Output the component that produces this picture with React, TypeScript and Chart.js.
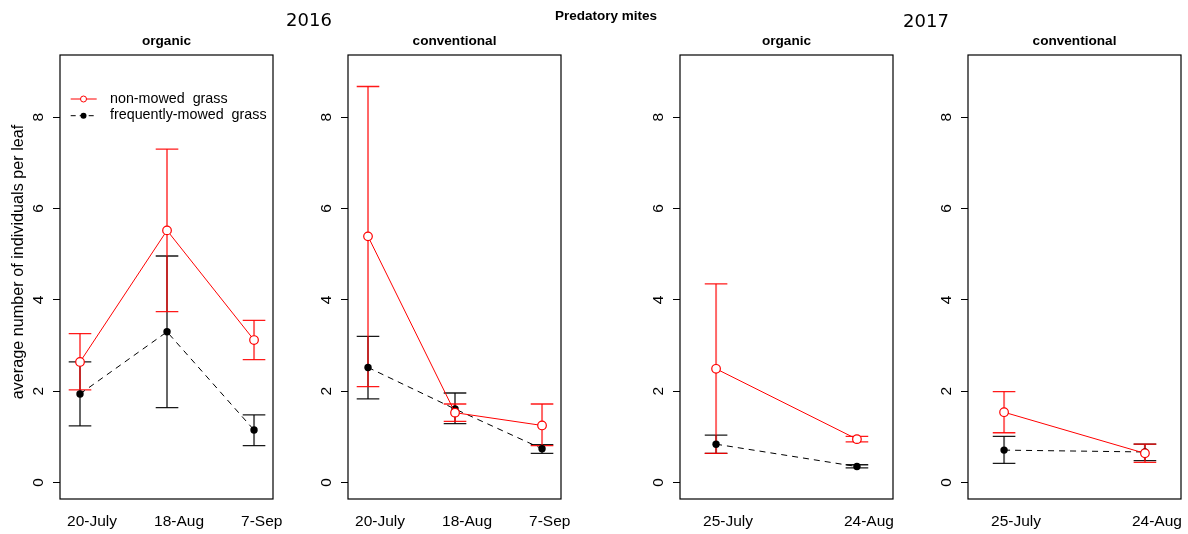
import React, { useEffect, useRef } from "react";
import { Chart, registerables } from "chart.js";
Chart.register(...registerables);

// ---------- data ----------
const mainTitle = "Predatory mites";
const yearLabels = ["2016", "2017"];
const panelTitles = ["organic", "conventional", "organic", "conventional"];
const yAxisTitle = "average number of individuals per leaf";
const seriesNames = ["non-mowed  grass", "frequently-mowed  grass"];
const yTicks = [0, 2, 4, 6, 8];

const dates2016 = ["20-July", "18-Aug", "7-Sep"];
const dates2017 = ["25-July", "24-Aug"];

// 2016 organic
const org16NonMean = [2.64, 5.52, 3.12];
const org16NonLow = [2.03, 3.74, 2.69];
const org16NonHigh = [3.26, 7.3, 3.55];
const org16MowMean = [1.94, 3.3, 1.15];
const org16MowLow = [1.24, 1.64, 0.81];
const org16MowHigh = [2.64, 4.96, 1.48];
// 2016 conventional
const con16NonMean = [5.39, 1.53, 1.25];
const con16NonLow = [2.1, 1.34, 0.81];
const con16NonHigh = [8.67, 1.72, 1.72];
const con16MowMean = [2.52, 1.61, 0.74];
const con16MowLow = [1.83, 1.29, 0.64];
const con16MowHigh = [3.2, 1.96, 0.83];
// 2017 organic
const org17NonMean = [2.49, 0.95];
const org17NonLow = [0.64, 0.89];
const org17NonHigh = [4.35, 1.01];
const org17MowMean = [0.84, 0.35];
const org17MowLow = [0.64, 0.32];
const org17MowHigh = [1.04, 0.39];
// 2017 conventional
const con17NonMean = [1.54, 0.64];
const con17NonLow = [1.09, 0.44];
const con17NonHigh = [1.99, 0.84];
const con17MowMean = [0.71, 0.67];
const con17MowLow = [0.42, 0.48];
const con17MowHigh = [1.01, 0.84];

// ---------- layout ----------
const FONT = '"Liberation Sans", Arial, Helvetica, sans-serif';
const H = 534;
const BOX_TOP = 55;
const BOX_BOTTOM = 499;
const BOX_W = 213;
const LEFT_AXIS = 60;
const RIGHT_PAD = 15;
const CW = LEFT_AXIS + BOX_W + RIGHT_PAD;
const Y_MIN = -0.36;
const Y_MAX = 9.36;

type PanelCfg = {
  title: string;
  labels: string[];
  xMin: number;
  xMax: number;
  nonMean: number[];
  nonLow: number[];
  nonHigh: number[];
  mowMean: number[];
  mowLow: number[];
  mowHigh: number[];
  boxLeft: number;
  first: boolean;
};

const panels: PanelCfg[] = [
  { title: panelTitles[0], labels: dates2016, xMin: 0.77, xMax: 3.218, nonMean: org16NonMean, nonLow: org16NonLow, nonHigh: org16NonHigh, mowMean: org16MowMean, mowLow: org16MowLow, mowHigh: org16MowHigh, boxLeft: 60, first: true },
  { title: panelTitles[1], labels: dates2016, xMin: 0.77, xMax: 3.218, nonMean: con16NonMean, nonLow: con16NonLow, nonHigh: con16NonHigh, mowMean: con16MowMean, mowLow: con16MowLow, mowHigh: con16MowHigh, boxLeft: 348, first: false },
  { title: panelTitles[2], labels: dates2017, xMin: 0.744, xMax: 2.256, nonMean: org17NonMean, nonLow: org17NonLow, nonHigh: org17NonHigh, mowMean: org17MowMean, mowLow: org17MowLow, mowHigh: org17MowHigh, boxLeft: 680, first: false },
  { title: panelTitles[3], labels: dates2017, xMin: 0.744, xMax: 2.256, nonMean: con17NonMean, nonLow: con17NonLow, nonHigh: con17NonHigh, mowMean: con17MowMean, mowLow: con17MowLow, mowHigh: con17MowHigh, boxLeft: 968, first: false },
];

function Panel({ p }: { p: PanelCfg }) {
  const ref = useRef<HTMLCanvasElement>(null);
  useEffect(() => {
    const canvas = ref.current!;
    const decor = {
      id: "decor",
      beforeDatasetsDraw(chart: any) {
        const { ctx } = chart;
        const x = chart.scales.x;
        const y = chart.scales.y;
        ctx.save();
        const drawBars = (low: number[], high: number[], stem: string, cap: string) => {
          low.forEach((lo, i) => {
            const px = x.getPixelForValue(i + 1);
            const y1 = y.getPixelForValue(lo);
            const y2 = y.getPixelForValue(high[i]);
            ctx.strokeStyle = stem;
            ctx.lineWidth = 2;
            ctx.beginPath();
            ctx.moveTo(px, y1);
            ctx.lineTo(px, y2);
            ctx.stroke();
            ctx.strokeStyle = cap;
            ctx.lineWidth = 1.3;
            ctx.beginPath();
            ctx.moveTo(px - 11.3, y1);
            ctx.lineTo(px + 11.3, y1);
            ctx.moveTo(px - 11.3, y2);
            ctx.lineTo(px + 11.3, y2);
            ctx.stroke();
          });
        };
        drawBars(p.mowLow, p.mowHigh, "rgba(0,0,0,0.6)", "rgba(0,0,0,0.9)");
        drawBars(p.nonLow, p.nonHigh, "rgba(255,0,0,0.6)", "rgba(255,0,0,0.9)");
        ctx.restore();
      },
      afterDraw(chart: any) {
        const { ctx, chartArea } = chart;
        const y = chart.scales.y;
        ctx.save();
        // box
        ctx.strokeStyle = "#000";
        ctx.lineWidth = 1.2;
        ctx.strokeRect(chartArea.left, chartArea.top, chartArea.right - chartArea.left, chartArea.bottom - chartArea.top);
        // panel title
        ctx.fillStyle = "#000";
        ctx.font = `bold 13.6px ${FONT}`;
        ctx.textAlign = "center";
        ctx.textBaseline = "alphabetic";
        ctx.fillText(p.title, (chartArea.left + chartArea.right) / 2, 44.5);
        // y tick labels (rotated, as in R)
        ctx.font = `15.5px ${FONT}`;
        yTicks.forEach((v) => {
          const py = y.getPixelForValue(v);
          ctx.save();
          ctx.translate(chartArea.left - 17.3, py);
          ctx.rotate(-Math.PI / 2);
          ctx.textAlign = "center";
          ctx.textBaseline = "alphabetic";
          ctx.fillText(String(v), 0, 0);
          ctx.restore();
        });
        if (p.first) {
          // y axis title
          ctx.save();
          ctx.font = `16.2px ${FONT}`;
          ctx.translate(23, 262);
          ctx.rotate(-Math.PI / 2);
          ctx.textAlign = "center";
          ctx.textBaseline = "alphabetic";
          ctx.fillText(yAxisTitle, 0, 0);
          ctx.restore();
          // legend
          const lx1 = 70.7, lx2 = 96.7, mx = 83.5, tx = 110;
          const rows = [99, 115.7];
          ctx.lineWidth = 1;
          ctx.strokeStyle = "#ff0000";
          ctx.beginPath();
          ctx.moveTo(lx1, rows[0]);
          ctx.lineTo(lx2, rows[0]);
          ctx.stroke();
          ctx.fillStyle = "#fff";
          ctx.beginPath();
          ctx.arc(mx, rows[0], 3, 0, Math.PI * 2);
          ctx.fill();
          ctx.stroke();
          ctx.strokeStyle = "#000";
          ctx.setLineDash([5, 4]);
          ctx.beginPath();
          ctx.moveTo(lx1, rows[1]);
          ctx.lineTo(lx2, rows[1]);
          ctx.stroke();
          ctx.setLineDash([]);
          ctx.fillStyle = "#000";
          ctx.beginPath();
          ctx.arc(mx, rows[1], 3, 0, Math.PI * 2);
          ctx.fill();
          ctx.font = `14.3px ${FONT}`;
          ctx.textAlign = "left";
          ctx.textBaseline = "alphabetic";
          ctx.fillText(seriesNames[0], tx, rows[0] + 3.7);
          ctx.fillText(seriesNames[1], tx, rows[1] + 3.7);
        }
        ctx.restore();
      },
    };

    const chart = new Chart(canvas, {
      type: "line",
      data: {
        datasets: [
          {
            label: seriesNames[0],
            data: p.nonMean.map((v, i) => ({ x: i + 1, y: v })),
            borderColor: "#ff0000",
            borderWidth: 1,
            pointRadius: 4.3,
            pointBackgroundColor: "#ffffff",
            pointBorderColor: "#ff0000",
            pointBorderWidth: 1.2,
            fill: false,
            tension: 0,
          },
          {
            label: seriesNames[1],
            data: p.mowMean.map((v, i) => ({ x: i + 1, y: v })),
            borderColor: "#000000",
            borderWidth: 1,
            borderDash: [6, 5],
            pointRadius: 3.7,
            pointBackgroundColor: "#000000",
            pointBorderColor: "#000000",
            pointBorderWidth: 0,
            fill: false,
            tension: 0,
          },
        ],
      },
      options: {
        animation: false,
        responsive: false,
        maintainAspectRatio: false,
        events: [],
        layout: { padding: { top: BOX_TOP, left: 0, right: RIGHT_PAD, bottom: 0 } },
        plugins: {
          legend: { display: false },
          tooltip: { enabled: false },
          title: { display: false },
        },
        scales: {
          x: {
            type: "linear",
            min: p.xMin,
            max: p.xMax,
            afterBuildTicks: (s: any) => {
              s.ticks = p.labels.map((_, i) => ({ value: i + 1 }));
            },
            afterFit: (s: any) => {
              s.height = H - BOX_BOTTOM;
              s.paddingLeft = 0;
              s.paddingRight = 0;
            },
            grid: { display: false, drawTicks: false },
            border: { display: false },
            ticks: {
              autoSkip: false,
              maxRotation: 0,
              minRotation: 0,
              align: "start",
              labelOffset: -13,
              padding: 13,
              color: "#000",
              font: { family: FONT, size: 15.5 },
              callback: (v: any) => p.labels[Math.round(v) - 1] ?? "",
            },
          },
          y: {
            type: "linear",
            min: Y_MIN,
            max: Y_MAX,
            afterBuildTicks: (s: any) => {
              s.ticks = yTicks.map((v) => ({ value: v }));
            },
            afterFit: (s: any) => {
              s.width = LEFT_AXIS;
              s.paddingTop = 0;
              s.paddingBottom = 0;
            },
            grid: { drawOnChartArea: false, drawTicks: true, tickLength: 7, color: "#000", lineWidth: 1 },
            border: { display: false },
            ticks: { display: false },
          },
        },
      },
      plugins: [decor],
    } as any);
    return () => chart.destroy();
  }, []);
  return (
    <canvas
      ref={ref}
      width={CW}
      height={H}
      style={{ position: "absolute", left: p.boxLeft - LEFT_AXIS, top: 0, width: CW, height: H }}
    />
  );
}

export default function App() {
  return (
    <div style={{ position: "absolute", left: 0, top: 0, width: 1188, height: H, overflow: "hidden", background: "#fff" }}>
      {panels.map((p, i) => (
        <Panel key={i} p={p} />
      ))}
      <div style={{ position: "absolute", left: 309, top: 10.8, transform: "translateX(-50%)", font: '18px "DejaVu Sans", sans-serif', lineHeight: 1, whiteSpace: "nowrap", color: "#000" }}>
        {yearLabels[0]}
      </div>
      <div style={{ position: "absolute", left: 926, top: 11.5, transform: "translateX(-50%)", font: '18px "DejaVu Sans", sans-serif', lineHeight: 1, whiteSpace: "nowrap", color: "#000" }}>
        {yearLabels[1]}
      </div>
      <div style={{ position: "absolute", left: 606, top: 8.5, transform: "translateX(-50%)", font: `bold 13.5px ${FONT}`, lineHeight: 1, whiteSpace: "nowrap", color: "#000" }}>
        {mainTitle}
      </div>
    </div>
  );
}
